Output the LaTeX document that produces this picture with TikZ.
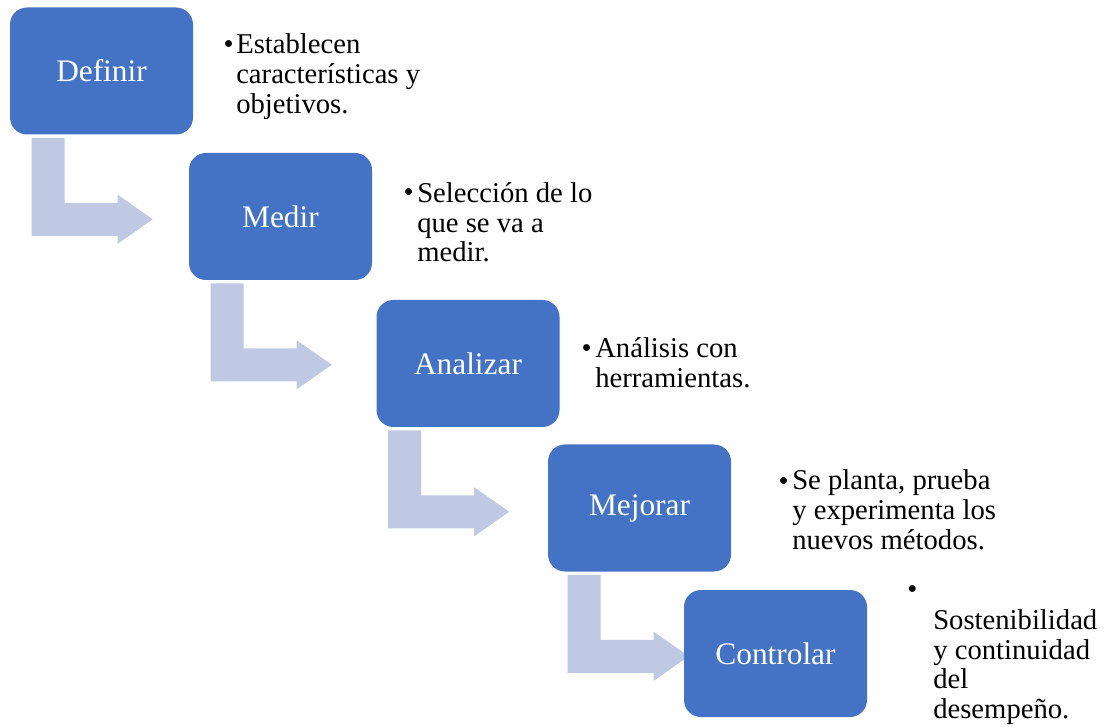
\documentclass[tikz,border=0pt]{standalone}
\usepackage{fontspec}
\setmainfont{Liberation Serif}
\usetikzlibrary{calc,backgrounds}
\definecolor{StepBlue}{HTML}{4472C4}
\definecolor{ArrowBlue}{HTML}{BFC9E4}
\tikzset{stage/.style={fill=StepBlue, draw=none, rounded corners=12.75pt, minimum width=137.25pt, minimum height=95.25pt, text=white, font=\fontsize{23.5}{28}\selectfont},
  note/.style={anchor=base west, align=left, inner sep=0pt, font=\fontsize{21.5}{22.2}\selectfont},
  dot/.style={anchor=base east, inner sep=0pt, font=\fontsize{21.5}{22.2}\selectfont}}
% bent arrow hanging under a stage box
\newcommand{\bentarrow}[2]{%
  \fill[ArrowBlue, shift={($(#1.south west)+(#2,3)$)}] (0,0) -- (33,0) -- (33,65) -- (86,65) -- (86,57) -- (121,81.5) -- (86,106) -- (86,98) -- (0,98) -- cycle;}

\begin{document}
\begin{tikzpicture}[x=0.75pt, y=-0.75pt]
\useasboundingbox (0,0) rectangle (1115,727);

\node[stage] (def) at (101.5,71) {Definir};
\node[stage] (med) at (280.5,216.5) {Medir};
\node[stage] (ana) at (468,363.5) {Analizar};
\node[stage] (mej) at (639.5,508) {Mejorar};
\node[stage] (con) at (775.5,653.5) {Controlar};

\begin{pgfonlayer}{background}
\bentarrow{def}{22}
\bentarrow{med}{22}
\bentarrow{ana}{12}
\bentarrow{mej}{20}
\end{pgfonlayer}

% notes: placed by the baseline of their last line
\node[note] (defNote) at (236,113.2) {Establecen\\características y\\objetivos.};
\node[dot] (defDot) at (234,54) {•};

\node[note] (medNote) at (417,262) {Selección de lo\\que se va a\\medir.};
\node[dot] (medDot) at (414,202) {•};

\node[note] (anaNote) at (595,387.6) {Análisis con\\herramientas.};
\node[dot] (anaDot) at (592,358) {•};

\node[note] (mejNote) at (792,549) {Se planta, prueba\\y experimenta los\\nuevos métodos.};
\node[dot] (mejDot) at (789,490) {•};

\node[dot, anchor=base west] (conDot) at (907,598) {•};
\node[note] (conNote) at (933,718.5) {Sostenibilidad\\y continuidad\\del\\desempeño.};
\end{tikzpicture}
\end{document}
